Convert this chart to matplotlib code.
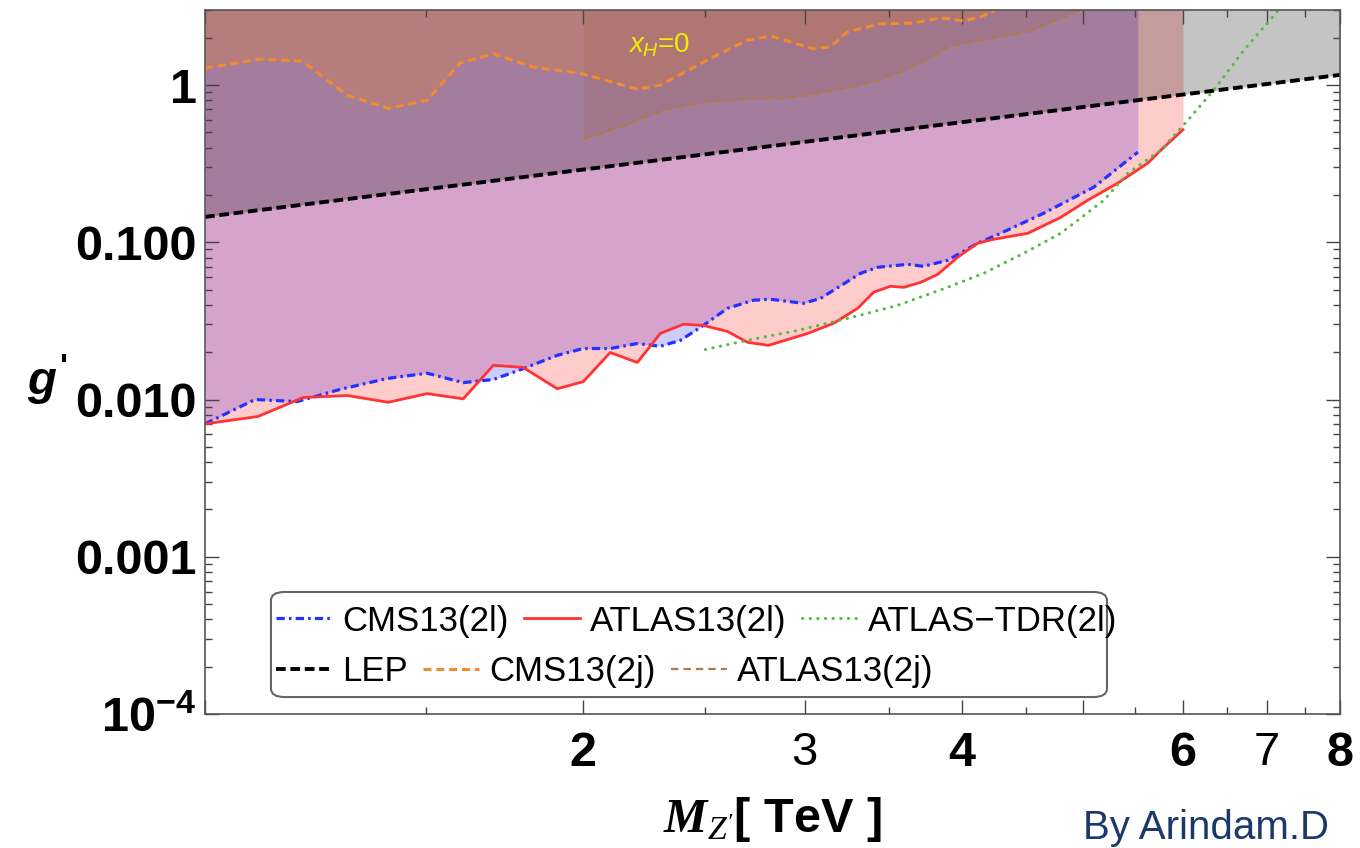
import matplotlib
matplotlib.use("Agg")
import matplotlib.pyplot as plt
from matplotlib.patches import FancyBboxPatch
from matplotlib.ticker import FixedLocator, NullFormatter

plt.rcParams.update({
    "font.family": ["Liberation Sans", "DejaVu Sans"],
    "mathtext.fontset": "custom",
    "mathtext.rm": "Liberation Sans",
    "mathtext.it": "Liberation Sans:italic",
    "mathtext.bf": "Liberation Sans:bold",
    "mathtext.sf": "Liberation Serif:italic",
    "mathtext.cal": "Liberation Serif:bold:italic",
})

# Limites d'exclusion sur g' en fonction de M_Z' (TeV)
cms2l_mass = [1.000, 1.096, 1.184, 1.281, 1.396, 1.502, 1.605, 1.696, 1.791, 1.907, 2.000,
              2.101, 2.208, 2.303, 2.390, 2.492, 2.604, 2.732, 2.818, 2.994, 3.089, 3.324,
              3.429, 3.623, 3.730, 3.898, 4.119, 4.296, 4.649, 5.095, 5.524]
cms2l_g = [0.0070, 0.0100, 0.0097, 0.0116, 0.0136, 0.0147, 0.0128, 0.0134, 0.0157, 0.0191, 0.0211,
           0.0211, 0.0227, 0.0218, 0.0238, 0.0296, 0.0380, 0.0428, 0.0434, 0.0409, 0.0440, 0.0635,
           0.0693, 0.0724, 0.0703, 0.0768, 0.0986, 0.114, 0.153, 0.224, 0.374]

atlas2l_mass = [1.000, 1.102, 1.197, 1.298, 1.399, 1.502, 1.605, 1.696, 1.791, 1.907, 2.000,
                2.101, 2.208, 2.303, 2.402, 2.492, 2.604, 2.702, 2.808, 3.016, 3.163, 3.306,
                3.404, 3.511, 3.597, 3.711, 3.828, 3.970, 4.119, 4.242, 4.515, 4.796, 5.039,
                5.325, 5.626, 5.761, 6.000]
atlas2l_g = [0.0070, 0.0078, 0.0103, 0.0106, 0.0096, 0.0109, 0.0101, 0.0165, 0.0160, 0.0117, 0.0130,
             0.0199, 0.0172, 0.0263, 0.0301, 0.0296, 0.0271, 0.0231, 0.0221, 0.0263, 0.0305, 0.0380,
             0.0481, 0.0525, 0.0517, 0.0556, 0.0625, 0.0802, 0.0986, 0.1045, 0.114, 0.144, 0.185,
             0.238, 0.319, 0.385, 0.52]

tdr_mass = [2.501, 2.702, 2.961, 3.246, 3.557, 3.898, 4.165, 4.481, 4.796, 5.190, 5.423,
            5.761, 6.054, 6.350, 6.709, 7.200]
tdr_g = [0.0208, 0.0238, 0.0275, 0.0328, 0.0397, 0.0517, 0.0635, 0.0851, 0.114, 0.185, 0.275,
         0.385, 0.598, 0.93, 1.67, 3.2]

lep_mass = [1.0, 8.0]
lep_g = [0.145, 1.16]

cms2j_mass = [1.000, 1.106, 1.195, 1.298, 1.399, 1.502, 1.596, 1.696, 1.825, 1.989, 2.208,
              2.303, 2.538, 2.702, 2.818, 2.923, 3.049, 3.146, 3.246, 3.448, 3.663, 3.849,
              4.014, 4.142, 4.257, 4.400]
cms2j_g = [1.28, 1.46, 1.42, 0.86, 0.71, 0.80, 1.38, 1.58, 1.30, 1.19, 0.94,
           1.00, 1.51, 1.93, 2.05, 1.88, 1.70, 1.75, 2.18, 2.45, 2.48, 2.67,
           2.56, 2.71, 3.0, 3.5]

atlas2j_mass = [2.000, 2.140, 2.316, 2.492, 2.702, 2.907, 3.049, 3.246, 3.448, 3.577, 3.779,
                3.898, 4.142, 4.515, 4.975, 5.100]
atlas2j_g = [0.453, 0.540, 0.693, 0.779, 0.814, 0.826, 0.876, 0.957, 1.076, 1.21, 1.486,
             1.746, 1.934, 2.176, 3.0, 3.3]

x_ticks = [1, 2, 3, 4, 5, 6, 7, 8]
x_ticklabels = ["", "2", "3", "4", "", "6", "7", "8"]
y_ticks = [1e-4, 1e-3, 1e-2, 1e-1, 1]
y_ticklabels = [r"$\mathbf{10^{-4}}$", "0.001", "0.010", "0.100", "1"]

C_BLEU = "#2233ff"
C_ROUGE = "#ff3333"
C_VERT = "#55bb44"
C_ORANGE = "#f28a30"
C_BRUN = "#b07a45"
HAUT = 10.0

fig = plt.figure(figsize=(13.6, 8.48), dpi=100)
ax = fig.add_axes([205 / 1360, 134 / 848, 1135 / 1360, 704 / 848])
ax.set_xscale("log")
ax.set_yscale("log")

# zones exclues
ax.fill_between(cms2l_mass, cms2l_g, HAUT, color="blue", alpha=0.2, lw=0)
ax.fill_between(atlas2l_mass, atlas2l_g, HAUT, color="red", alpha=0.2, lw=0)
ax.fill_between(lep_mass, lep_g, HAUT, color="black", alpha=0.23, lw=0)
ax.fill_between(cms2j_mass, cms2j_g, HAUT, color="#ff7f0e", alpha=0.2, lw=0)
ax.fill_between(atlas2j_mass, atlas2j_g, HAUT, color="#8c4a20", alpha=0.12, lw=0)

# courbes
l_lep, = ax.plot(lep_mass, lep_g, color="black", lw=2.8, ls=(0, (2.5, 1.2)), label="LEP")
l_c2j, = ax.plot(cms2j_mass, cms2j_g, color=C_ORANGE, lw=2.2, ls=(0, (2.6, 1.6)), label="CMS13(2j)")
l_a2j, = ax.plot(atlas2j_mass, atlas2j_g, color=C_BRUN, lw=1.6, ls=(0, (3.3, 2.3)), label="ATLAS13(2j)")
l_c2l, = ax.plot(cms2l_mass, cms2l_g, color=C_BLEU, lw=2.3, ls=(0, (2.6, 1.3, 0.8, 1.3)), label="CMS13(2l)")
l_a2l, = ax.plot(atlas2l_mass, atlas2l_g, color=C_ROUGE, lw=2.0, label="ATLAS13(2l)")
l_tdr, = ax.plot(tdr_mass, tdr_g, color=C_VERT, lw=2.2, ls=(0, (0.1, 2.4)),
                 dash_capstyle="round", label="ATLAS\u2212TDR(2l)")

ax.text(2.17, 1.8, r"$x_H$=0", color="#eeee00", fontsize=20, ha="left", va="center")

ax.set_xlim(1, 8)
ax.set_ylim(1e-4, 3.0)

ax.xaxis.set_major_locator(FixedLocator(x_ticks))
ax.xaxis.set_minor_locator(FixedLocator([1.5, 2.5, 3.5, 4.5, 5.5, 6.5, 7.5]))
ax.set_xticklabels(x_ticklabels)
ax.xaxis.set_minor_formatter(NullFormatter())
ax.yaxis.set_major_locator(FixedLocator(y_ticks))
ax.yaxis.set_minor_locator(FixedLocator([m * 10.0 ** e for e in range(-4, 1) for m in range(2, 10)]))
ax.set_yticklabels(y_ticklabels)
ax.yaxis.set_minor_formatter(NullFormatter())

ax.tick_params(which="both", direction="in", top=True, right=True, color="#444444", width=1.0)
ax.tick_params(which="major", length=10, labelsize=35)
ax.tick_params(axis="y", which="major", pad=6)
ax.tick_params(axis="x", which="major", pad=12)
ax.tick_params(which="minor", length=5)
for t in ax.get_xticklabels() + ax.get_yticklabels():
    t.set_fontweight("bold")
for t in ax.get_xticklabels():
    if t.get_text() in ("3", "7"):
        t.set_fontweight("normal")
        t.set_fontsize(34)
for s in ax.spines.values():
    s.set_color("#555555")
    s.set_linewidth(1.2)

ax.set_xlabel(r"$\mathcal{M}_{\mathsf{Z'}}$[ TeV ]", fontsize=35, fontweight="bold", labelpad=14)

fig.text(42 / 1360, 1 - 382 / 848, "g", fontsize=34, fontweight="bold", style="italic",
         ha="center", va="center")
fig.text(64 / 1360, 1 - 368 / 848, "'", fontsize=24, fontweight="bold", ha="center", va="center")

# cadre arrondi de la legende, puis deux rangees
cadre = FancyBboxPatch((0.0581, 0.0241), 0.7366, 0.1492, boxstyle="round,pad=0,rounding_size=0.012",
                       transform=ax.transAxes, facecolor="white", edgecolor="#666666", lw=1.5, zorder=5)
ax.add_patch(cadre)

opts = dict(frameon=False, ncol=3, fontsize=25, handlelength=1.6, handletextpad=0.3,
            columnspacing=0.45, borderpad=0, borderaxespad=0, loc="center left")
leg1 = ax.legend(handles=[l_c2l, l_a2l, l_tdr], bbox_to_anchor=(0.0626, 0.132), **opts)
leg1.set_zorder(6)
ax.add_artist(leg1)
leg2 = ax.legend(handles=[l_lep, l_c2j, l_a2j], bbox_to_anchor=(0.0626, 0.060), **opts)
leg2.set_zorder(6)

fig.text(1083 / 1360, 1 - 828 / 848, "By Arindam.D", fontsize=29, color="#1b3a6b",
         ha="left", va="center")

fig.savefig("out.png", dpi=100)
